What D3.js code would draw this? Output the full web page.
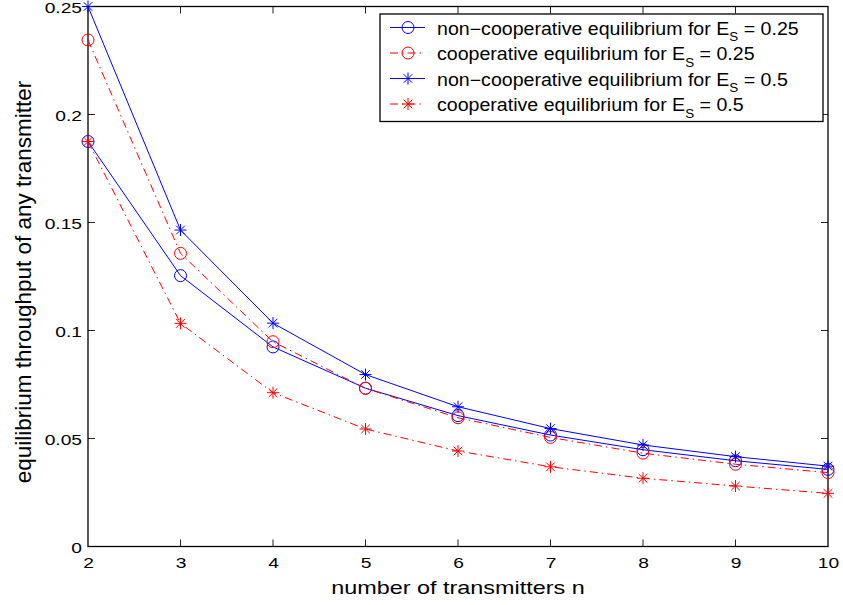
<!DOCTYPE html>
<html><head><meta charset="utf-8">
<script src="https://cdn.jsdelivr.net/npm/d3@7"></script>
<style>body{margin:0;background:#fff}svg text{font-family:"Liberation Sans",Arial,Helvetica,sans-serif}</style>
</head><body>
<script>
const nValues = [2,3,4,5,6,7,8,9,10];
const nonCoop025 = [0.1875,0.1254,0.0924,0.0733,0.0606,0.0516,0.0448,0.0397,0.0357];
const coop025    = [0.2345,0.1357,0.0948,0.0732,0.0596,0.0505,0.0432,0.0381,0.0342];
const nonCoop05  = [0.2500,0.1465,0.1034,0.0796,0.0647,0.0546,0.0470,0.0416,0.0372];
const coop05     = [0.1875,0.1033,0.0712,0.0544,0.0442,0.0369,0.0316,0.0280,0.0246];
const xTicks = [2,3,4,5,6,7,8,9,10];
const yTicks = [0,0.05,0.1,0.15,0.2,0.25];
const yTickLabels = ["0","0.05","0.1","0.15","0.2","0.25"];
const seriesNames = ["non\u2212cooperative equilibrium for E","cooperative equilibrium for E","non\u2212cooperative equilibrium for E","cooperative equilibrium for E"];
const seriesEs = ["0.25","0.25","0.5","0.5"];

const W=843,H=605, L=88,R=828,T=6.5,B=546.5;
const svg=d3.select("body").append("svg").attr("width",W).attr("height",H);
const x=d3.scaleLinear().domain([2,10]).range([L,R]);
const y=d3.scaleLinear().domain([0,0.25]).range([B,T]);

const series=[
 {v:nonCoop025,color:"#0000ff",dash:null,marker:"o"},
 {v:coop025,color:"#ff0000",dash:"8,4,1.5,4",marker:"o"},
 {v:nonCoop05,color:"#0000ff",dash:null,marker:"*"},
 {v:coop05,color:"#ff0000",dash:"8,4,1.5,4",marker:"*"}
];

// axes
const tickLen=7, TSX=1.28;
const axB=d3.axisBottom(x).tickValues(xTicks).tickSize(0).tickPadding(11).tickFormat(d3.format("d"));
const axL=d3.axisLeft(y).tickValues(yTicks).tickSize(0).tickPadding(6/TSX).tickFormat((d,i)=>yTickLabels[i]);
svg.append("g").attr("transform",`translate(0,${B})`).call(axB).call(s=>s.select(".domain").remove())
 .selectAll("text").attr("font-size",15).attr("fill","#000").attr("transform",`scale(${TSX},1)`);
svg.append("g").attr("transform",`translate(${L},0)`).call(axL).call(s=>s.select(".domain").remove())
 .selectAll("text").attr("font-size",15).attr("fill","#000").attr("y",1.5).attr("transform",`scale(${TSX},1)`);
// inward ticks on all sides
const tk=svg.append("g").attr("stroke","#222").attr("stroke-width",1);
xTicks.slice(1,-1).forEach(t=>{
  tk.append("line").attr("x1",x(t)).attr("x2",x(t)).attr("y1",B).attr("y2",B-tickLen);
  tk.append("line").attr("x1",x(t)).attr("x2",x(t)).attr("y1",T).attr("y2",T+tickLen);
});
yTicks.slice(1,-1).forEach(t=>{
  tk.append("line").attr("x1",L).attr("x2",L+tickLen).attr("y1",y(t)).attr("y2",y(t));
  tk.append("line").attr("x1",R).attr("x2",R-tickLen).attr("y1",y(t)).attr("y2",y(t));
});
svg.append("rect").attr("x",L).attr("y",T).attr("width",R-L).attr("height",B-T)
 .attr("fill","none").attr("stroke","#000").attr("stroke-width",1.3);

// lines
const line=d3.line().x((d,i)=>x(nValues[i])).y(d=>y(d));
function drawMarker(sel,type,cx,cy,color){
  if(type==="o"){
    sel.append("circle").attr("cx",cx).attr("cy",cy).attr("r",6).attr("fill","none").attr("stroke",color).attr("stroke-width",1);
  } else {
    const s=6, d=4.3;
    const p=`M${cx-s},${cy}L${cx+s},${cy}M${cx},${cy-s}L${cx},${cy+s}M${cx-d},${cy-d}L${cx+d},${cy+d}M${cx-d},${cy+d}L${cx+d},${cy-d}`;
    sel.append("path").attr("d",p).attr("stroke",color).attr("stroke-width",1).attr("fill","none");
  }
}
series.forEach(s=>{
  svg.append("path").datum(s.v).attr("d",line).attr("fill","none").attr("stroke",s.color)
   .attr("stroke-width",1).attr("stroke-dasharray",s.dash);
  const mg=svg.append("g");
  s.v.forEach((v,i)=>drawMarker(mg,s.marker,x(nValues[i]),y(v),s.color));
});

// axis labels
svg.append("text").attr("transform",`translate(${(L+R)/2},594) scale(1.3,1)`).attr("text-anchor","middle").attr("font-size",18).text("number of transmitters n");
svg.append("text").attr("transform",`translate(30.5,282) rotate(-90)`).attr("text-anchor","middle").attr("font-size",22.5).text("equilibrium throughput of any transmitter");

// legend
const lg=svg.append("g");
lg.append("rect").attr("x",380).attr("y",14).attr("width",443).attr("height",107.5).attr("fill","#fff").attr("stroke","#000").attr("stroke-width",1.3);
const rowsY=[27.5,53,78.5,104];
series.forEach((s,i)=>{
  const yy=rowsY[i];
  lg.append("line").attr("x1",390).attr("x2",425).attr("y1",yy).attr("y2",yy).attr("stroke",s.color).attr("stroke-width",1).attr("stroke-dasharray",s.dash);
  drawMarker(lg,s.marker,408,yy,s.color);
  const t=lg.append("text").attr("transform",`translate(437,${yy+7}) scale(1.12,1)`).attr("font-size",17.5);
  t.append("tspan").text(seriesNames[i]);
  t.append("tspan").attr("dy",6.5).attr("font-size",12).text("S");
  t.append("tspan").attr("dy",-6.5).text(" = "+seriesEs[i]);
});
</script>
</body></html>
